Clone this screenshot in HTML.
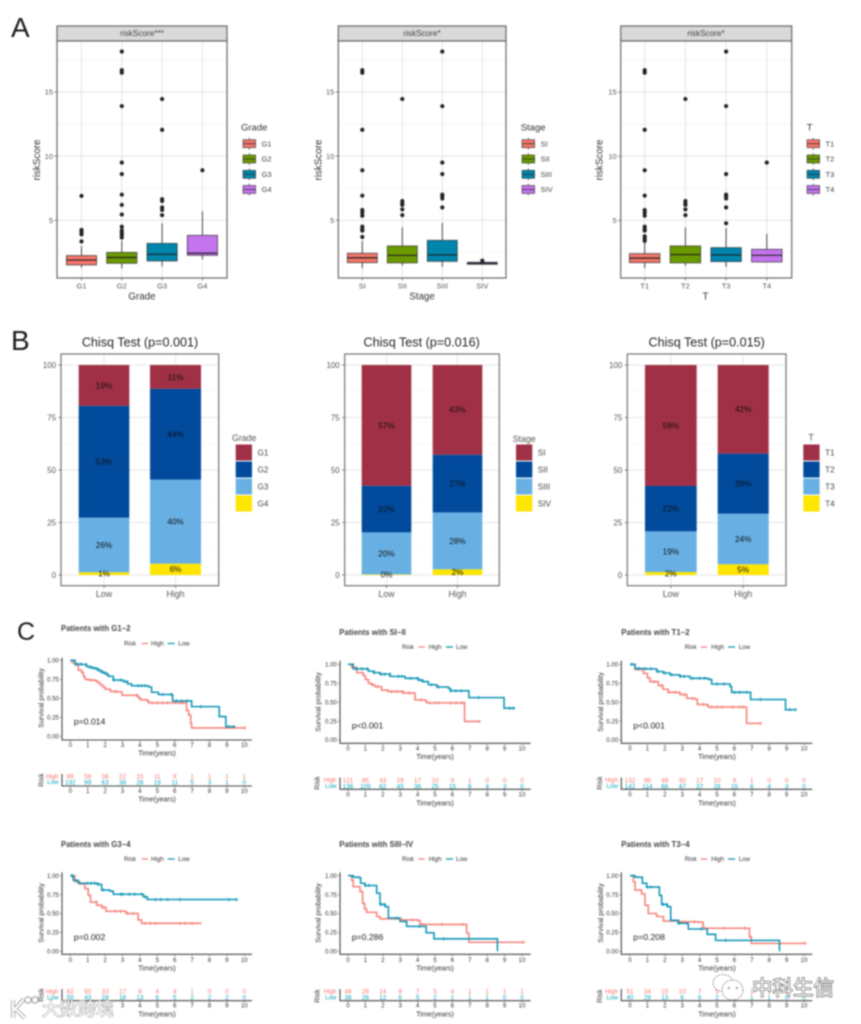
<!DOCTYPE html>
<html lang="en">
<head>
<meta charset="utf-8">
<title>Risk score figure</title>
<style>
html,body{margin:0;padding:0;background:#fff;width:861px;height:1024px;overflow:hidden}
svg{display:block;filter:blur(0.7px)}
text{font-family:"Liberation Sans","Noto Sans CJK SC",sans-serif}
.letter{fill:#1c1c1c}
.strip{font-size:8.2px;fill:#444;text-anchor:middle}
.axt{font-size:9.8px;fill:#333;text-anchor:middle}
.legt{font-size:9.5px;fill:#333}
.bt{font-size:12.6px;fill:#222;text-anchor:middle}
.blegt{font-size:8.8px;fill:#555}
.kt{font-size:7.8px;font-weight:bold;fill:#444}
.kl{font-size:6.2px;fill:#333}
.kx{font-size:7.1px;fill:#333;text-anchor:middle}
.kp{font-size:8.7px;fill:#222}
.kr{font-size:7px;fill:#333;text-anchor:middle}
</style>
</head>
<body>
<svg id="figure" xmlns="http://www.w3.org/2000/svg" width="861" height="1024" viewBox="0 0 861 1024">
<rect width="861" height="1024" fill="#fff"/>

<text class="letter" x="11" y="37" font-size="28">A</text>
<text class="letter" x="11" y="350" font-size="28">B</text>
<text class="letter" x="17" y="640" font-size="25">C</text>

<g id="box-grade">
<text class="strip" x="142" y="36">riskScore***</text>
<text class="axt" x="142" y="299.5">Grade</text>
<text class="axt" transform="translate(40,160) rotate(-90)" font-size="10.5">riskScore</text>
<text class="legt" x="241" y="130.5">Grade</text>
</g>
<g id="box-stage">
<text class="strip" x="422" y="36">riskScore*</text>
<text class="axt" x="422" y="299.5">Stage</text>
<text class="axt" transform="translate(321.5,160) rotate(-90)">riskScore</text>
<text class="legt" x="520.7" y="130.5">Stage</text>
</g>
<g id="box-t">
<text class="strip" x="706" y="36">riskScore*</text>
<text class="axt" x="705.5" y="299.5">T</text>
<text class="axt" transform="translate(602.5,160) rotate(-90)">riskScore</text>
<text class="legt" x="806.7" y="130.5">T</text>
</g>

<g id="bar-grade">
<text class="bt" x="140" y="346.5">Chisq Test (p=0.001)</text>
<text class="blegt" x="232" y="441">Grade</text>
</g>
<g id="bar-stage">
<text class="bt" x="421.7" y="346.5">Chisq Test (p=0.016)</text>
<text class="blegt" x="512.7" y="442">Stage</text>
</g>
<g id="bar-t">
<text class="bt" x="706.7" y="346.5">Chisq Test (p=0.015)</text>
<text class="blegt" x="808.5" y="440.5">T</text>
</g>

<g id="km1">
<text class="kt" x="61" y="631">Patients with G1−2</text>
<text class="kl" x="124" y="645.5">Risk</text>
<text class="kl" x="151" y="645.5">High</text>
<text class="kl" x="178.3" y="645.5">Low</text>
<text class="kp" x="73.7" y="724.7">p=0.014</text>
<text class="kx" x="157" y="755.5">Time(years)</text>
<text class="kx" x="157" y="801.5">Time(years)</text>
<text class="kx" transform="translate(43.5,698) rotate(-90)">Survival probability</text>
<text class="kr" transform="translate(43.5,780) rotate(-90)">Risk</text>
</g>
<g id="km2">
<text class="kt" x="339.3" y="635">Patients with SI−II</text>
<text class="kl" x="402" y="649">Risk</text>
<text class="kl" x="428.7" y="649">High</text>
<text class="kl" x="456" y="649">Low</text>
<text class="kp" x="351.7" y="728.7">p&lt;0.001</text>
<text class="kx" x="435" y="759">Time(years)</text>
<text class="kx" x="435" y="805.5">Time(years)</text>
<text class="kx" transform="translate(320.5,702) rotate(-90)">Survival probability</text>
<text class="kr" transform="translate(319.5,783) rotate(-90)">Risk</text>
</g>
<g id="km3">
<text class="kt" x="621.3" y="635">Patients with T1−2</text>
<text class="kl" x="684.7" y="649">Risk</text>
<text class="kl" x="711.3" y="649">High</text>
<text class="kl" x="738.7" y="649">Low</text>
<text class="kp" x="633.3" y="728.7">p&lt;0.001</text>
<text class="kx" x="717" y="759">Time(years)</text>
<text class="kx" x="717" y="805.5">Time(years)</text>
<text class="kx" transform="translate(603,702) rotate(-90)">Survival probability</text>
<text class="kr" transform="translate(602,783) rotate(-90)">Risk</text>
</g>
<g id="km4">
<text class="kt" x="61" y="847">Patients with G3−4</text>
<text class="kl" x="124" y="861">Risk</text>
<text class="kl" x="151" y="861">High</text>
<text class="kl" x="178.3" y="861">Low</text>
<text class="kp" x="73.7" y="940">p=0.002</text>
<text class="kx" x="157" y="970.5">Time(years)</text>
<text class="kx" x="157" y="1016.5">Time(years)</text>
<text class="kx" transform="translate(43.5,913) rotate(-90)">Survival probability</text>
<text class="kr" transform="translate(43.5,995) rotate(-90)">Risk</text>
</g>
<g id="km5">
<text class="kt" x="339.3" y="847">Patients with SIII−IV</text>
<text class="kl" x="402" y="861">Risk</text>
<text class="kl" x="428.7" y="861">High</text>
<text class="kl" x="456" y="861">Low</text>
<text class="kp" x="351.7" y="940">p=0.286</text>
<text class="kx" x="435" y="970.5">Time(years)</text>
<text class="kx" x="435" y="1016.5">Time(years)</text>
<text class="kx" transform="translate(320.5,913) rotate(-90)">Survival probability</text>
<text class="kr" transform="translate(319.5,996) rotate(-90)">Risk</text>
</g>
<g id="km6">
<text class="kt" x="621.3" y="847">Patients with T3−4</text>
<text class="kl" x="684.7" y="861">Risk</text>
<text class="kl" x="711.3" y="861">High</text>
<text class="kl" x="738.7" y="861">Low</text>
<text class="kp" x="633.3" y="940">p=0.208</text>
<text class="kx" x="717" y="970.5">Time(years)</text>
<text class="kx" x="717" y="1016.5">Time(years)</text>
<text class="kx" transform="translate(603,913) rotate(-90)">Survival probability</text>
<text class="kr" transform="translate(602,996) rotate(-90)">Risk</text>
</g>

<g id="watermarks">
<rect x="40" y="1002.5" width="76" height="16" fill="#fff" opacity="0.9"/>
<g fill="none" stroke="#fff" stroke-width="2.4">
<path d="M13 1000v18M24 999l-9 10 10 9" stroke="#999" stroke-width="4"/>
<path d="M13 1000v18M24 999l-9 10 10 9"/>
<circle cx="28" cy="1000" r="3.2" stroke="#999" stroke-width="1"/>
<circle cx="35" cy="1000" r="3.2" stroke="#999" stroke-width="1"/>
</g>
<text x="42" y="1015.5" font-size="18" fill="#fff" stroke="#999" stroke-width="1" paint-order="stroke">大数跨境</text>
<g fill="#fff" stroke="#555" stroke-width="0.7" stroke-dasharray="1.6 1.4">
<ellipse cx="723" cy="983" rx="10" ry="8.5"/>
<ellipse cx="732.5" cy="990" rx="10.5" ry="10"/>
<circle cx="728.5" cy="988" r="0.8"/>
<circle cx="736.5" cy="988" r="0.8"/>
</g>
<text x="752" y="995" font-size="20.5" fill="#fff" stroke="#333" stroke-width="1" paint-order="stroke">中科生信</text>
</g>
</svg>

<script>
/* ---------- Panel A: box plots ---------- */
const boxYTicks = [5, 10, 15];
const boxYMinorTicks = [2.5, 7.5, 12.5, 17.5];

const gradeCategories = ['G1', 'G2', 'G3', 'G4'];
const gradeWhiskerLow = [1.3, 1.25, 1.4, 1.95];
const gradeQ1 = [1.52, 1.65, 1.83, 2.27];
const gradeMedian = [1.9, 2.1, 2.35, 2.43];
const gradeQ3 = [2.25, 2.5, 3.2, 3.83];
const gradeWhiskerHigh = [3.0, 3.4, 4.77, 5.7];
const gradeOutliers = [
  [6.9, 4.25, 4.1, 3.9, 3.35],
  [18.15, 16.7, 16.5, 13.9, 9.5, 8.6, 7.0, 6.2, 5.45, 4.5, 4.2, 4.0, 3.85, 3.65],
  [14.45, 12.05, 6.65, 6.5, 6.0, 5.8, 5.4],
  [8.9]
];

const stageCategories = ['SI', 'SII', 'SIII', 'SIV'];
const stageWhiskerLow = [1.26, 1.45, 1.36, 1.55];
const stageQ1 = [1.7, 1.68, 1.8, 1.57];
const stageMedian = [2.07, 2.27, 2.3, 1.65];
const stageQ3 = [2.43, 3.0, 3.44, 1.73];
const stageWhiskerHigh = [3.4, 4.45, 4.8, 1.75];
const stageOutliers = [
  [16.7, 16.5, 12.05, 8.9, 6.92, 5.8, 5.6, 5.35, 4.5, 4.3, 4.2, 3.7],
  [14.45, 6.5, 6.3, 6.2, 5.85, 5.4],
  [18.15, 13.9, 9.5, 8.6, 7.0, 6.9, 6.7, 6.0],
  [1.85]
];

const tCategories = ['T1', 'T2', 'T3', 'T4'];
const tWhiskerLow = [1.26, 1.45, 1.36, 1.73];
const tQ1 = [1.7, 1.68, 1.78, 1.75];
const tMedian = [2.05, 2.33, 2.3, 2.27];
const tQ3 = [2.4, 3.0, 2.87, 2.74];
const tWhiskerHigh = [3.4, 4.45, 4.38, 3.93];
const tOutliers = [
  [16.7, 16.5, 12.05, 8.9, 6.92, 5.8, 5.6, 5.35, 4.5, 4.3, 4.2, 3.75, 3.6, 3.4],
  [14.45, 6.5, 6.3, 6.2, 5.85, 5.4],
  [18.15, 13.9, 8.6, 7.0, 6.9, 6.7, 6.0, 4.77],
  [9.5]
];

/* ---------- Panel B: stacked bars (top segment first) ---------- */
const barYTicks = [0, 25, 50, 75, 100];
const barYMinorTicks = [12.5, 37.5, 62.5, 87.5];
const barGroups = ['Low', 'High'];

const gradeBarLow = [19.4, 53.3, 26, 1.3];
const gradeBarHigh = [11.3, 43.3, 40, 5.4];
const gradeBarLowLabels = ['19%', '53%', '26%', '1%'];
const gradeBarHighLabels = ['11%', '44%', '40%', '6%'];

const stageBarLow = [57.5, 22.2, 20.0, 0.3];
const stageBarHigh = [42.7, 27.5, 27.1, 2.7];
const stageBarLowLabels = ['57%', '22%', '20%', '0%'];
const stageBarHighLabels = ['43%', '27%', '28%', '2%'];

const tBarLow = [57.6, 21.6, 19.4, 1.4];
const tBarHigh = [42.2, 28.6, 24.1, 5.1];
const tBarLowLabels = ['58%', '22%', '19%', '2%'];
const tBarHighLabels = ['42%', '29%', '24%', '5%'];

/* ---------- Panel C: survival curves ---------- */
const kmXTicks = [0, 1, 2, 3, 4, 5, 6, 7, 8, 9, 10];
const kmYTicks = [0, 0.25, 0.5, 0.75, 1];

const km1HighT = [0, .1, .27, .46, .65, .75, .84, 1.03, 1.42, 1.55, 1.7, 1.85, 2.0, 2.3, 2.68, 2.97, 3.74, 3.9, 4.02, 4.4, 4.5, 6.59, 6.68, 6.8, 6.92, 6.97, 10.1];
const km1HighS = [1, .97, .94, .87, .84, .79, .75, .74, .73, .71, .68, .65, .62, .59, .585, .54, .54, .51, .48, .47, .44, .44, .34, .28, .17, .11, .11];
const km1HighCensor = [1.2, 2.6, 3.8, 4.7, 5, 5.3, 5.6, 6, 6.3, 6.5, 10];
const km1LowT = [0, .27, .65, .94, 1.2, 1.42, 1.6, 1.8, 2.0, 2.18, 2.47, 3.05, 3.3, 3.52, 4.48, 4.67, 5.06, 5.82, 5.88, 6.92, 6.97, 8.5, 8.56, 8.88, 8.94, 9.46];
const km1LowS = [1, .95, .945, .915, .90, .89, .865, .84, .82, .79, .74, .72, .69, .665, .65, .58, .55, .55, .465, .465, .39, .39, .26, .26, .127, .127];
const km1LowCensor = [.4, .6, .9, 1.1, 1.3, 1.5, 1.7, 1.9, 2.1, 2.5, 2.9, 3.2, 3.9, 4.1, 4.3, 5.3, 5.8, 6.1, 6.4, 6.7, 7.5, 9.1, 9.4];
const km1RiskHigh = ['89', '58', '38', '22', '15', '11', '9', '1', '1', '1', '1'];
const km1RiskLow = ['132', '99', '63', '38', '28', '19', '11', '5', '3', '1', '0'];

const km2HighT = [0, .21, .5, .88, 1.0, 1.17, 1.35, 1.55, 1.93, 2.3, 3.18, 3.75, 3.85, 4.43, 4.52, 6.67, 6.7, 7.55];
const km2HighS = [1, .96, .89, .85, .80, .75, .73, .705, .66, .64, .62, .62, .53, .52, .49, .49, .245, .245];
const km2HighCensor = [1.4, 1.7, 2.5, 2.8, 3.1, 3.5, 4.2, 4.7, 5, 5.2, 5.9, 6.2, 6.5, 6.65, 7.55];
const km2LowT = [0, .3, .79, 1.17, 1.5, 1.84, 2.41, 3.28, 4.04, 4.3, 4.62, 5.1, 5.77, 5.9, 6.92, 6.95, 8.93, 8.97, 9.6];
const km2LowS = [1, .94, .94, .91, .89, .87, .84, .815, .79, .77, .73, .70, .68, .65, .65, .56, .56, .42, .42];
const km2LowCensor = [.5, .8, 1.1, 1.5, 1.9, 2.1, 2.4, 2.9, 3.1, 3.6, 4, 4.2, 4.8, 5.2, 5.9, 6.2, 6.5, 7.5, 9.3, 9.5];
const km2RiskHigh = ['121', '85', '43', '29', '17', '10', '9', '1', '0', '0', '0'];
const km2RiskLow = ['136', '109', '62', '45', '36', '25', '15', '6', '4', '3', '0'];

const km3HighT = [0, .29, .77, 1.0, 1.15, 1.63, 1.9, 2.2, 2.87, 3.26, 3.74, 3.87, 4.4, 4.5, 6.67, 6.7, 7.53];
const km3HighS = [1, .93, .88, .82, .77, .72, .67, .63, .6, .55, .54, .47, .46, .435, .435, .22, .22];
const km3HighCensor = [1.4, 1.8, 2.2, 2.6, 3.1, 3.6, 4.2, 4.7, 5, 5.3, 5.9, 6.3, 6.5, 7.5];
const km3LowT = [0, .29, .86, 1.53, 1.9, 2.3, 2.87, 3.45, 4.5, 4.69, 5.75, 5.84, 6.9, 6.93, 8.9, 8.94, 9.54];
const km3LowS = [1, .945, .94, .905, .885, .86, .84, .815, .80, .74, .705, .63, .63, .535, .535, .40, .40];
const km3LowCensor = [.1, .5, .9, 1.2, 1.6, 2, 2.4, 2.9, 3.1, 3.6, 4, 4.3, 5, 5.4, 6, 6.3, 6.7, 7.5, 9.2, 9.5];
const km3RiskHigh = ['132', '95', '49', '30', '17', '10', '9', '1', '0', '0', '0'];
const km3RiskLow = ['142', '114', '66', '47', '37', '26', '15', '6', '4', '3', '0'];

const km4HighT = [0, .27, .55, .84, 1.03, 1.16, 1.51, 1.8, 2.05, 3.14, 3.2, 3.77, 3.9, 4.1, 7.55];
const km4HighS = [1, .92, .89, .83, .74, .65, .61, .58, .53, .53, .5, .5, .415, .37, .37];
const km4HighCensor = [1.5, 1.9, 2.6, 2.9, 3.3, 3.6, 4.3, 4.6, 4.9, 6.3, 6.6, 7.0];
const km4LowT = [0, .17, .46, 1.6, 1.8, 2.28, 2.47, 3.9, 4.2, 4.43, 9.56];
const km4LowS = [1, .94, .9, .885, .81, .795, .755, .755, .72, .685, .685];
const km4LowCensor = [.1, 1, 1.2, 1.4, 1.6, 1.9, 2.9, 3, 3.4, 3.7, 4.1, 4.3, 4.9, 5.2, 5.6, 6.3, 9.1, 9.55];
const km4RiskHigh = ['62', '50', '33', '17', '9', '4', '4', '1', '0', '0', '0'];
const km4RiskLow = ['50', '43', '28', '18', '13', '6', '5', '2', '2', '2', '0'];

const km5HighT = [0, .21, .3, .69, .84, .95, 1.07, 1.65, 1.84, 3, 4.04, 4.14, 6.63, 6.82, 6.95, 10.08];
const km5HighS = [1, .94, .855, .79, .635, .56, .515, .46, .43, .415, .405, .355, .355, .24, .12, .12];
const km5HighCensor = [3.1, 3.7, 4.3, 5.4, 6.6, 10.08];
const km5LowT = [0, .3, .65, .73, .98, 1.49, 1.65, 1.84, 2.13, 2.32, 2.99, 3.33, 3.37, 4.43, 4.49, 4.9, 4.94, 8.58, 8.59];
const km5LowS = [1, .98, .975, .9, .87, .87, .77, .62, .59, .44, .395, .39, .33, .33, .245, .245, .165, .165, 0];
const km5LowCensor = [1, 1.2, 1.9, 2.1, 2.8, 4.1, 5.5];
const km5RiskHigh = ['48', '28', '14', '9', '7', '5', '4', '1', '1', '1', '1'];
const km5RiskLow = ['38', '28', '12', '6', '5', '2', '1', '1', '1', '0', '0'];

const km6HighT = [0, .19, .29, .67, .86, 1.05, 1.53, 1.92, 2.87, 3.93, 4.2, 6.7, 6.86, 6.97, 10.06];
const km6HighS = [1, .92, .81, .76, .61, .50, .46, .40, .39, .385, .305, .305, .195, .105, .105];
const km6HighCensor = [3.1, 3.7, 4.3, 5.4, 6.6, 10.06];
const km6LowT = [0, .29, .61, .71, .96, 1.49, 1.69, 1.82, 2.15, 2.34, 2.78, 3.3, 3.35, 4.4, 4.44, 4.88, 4.92, 8.58, 8.59];
const km6LowS = [1, .98, .98, .9, .85, .85, .74, .62, .59, .41, .37, .365, .295, .295, .225, .225, .145, .145, 0];
const km6LowCensor = [1, 1.2, 1.9, 2.1, 2.8, 4.1, 5.5];
const km6RiskHigh = ['51', '34', '15', '10', '7', '5', '4', '1', '1', '1', '1'];
const km6RiskLow = ['40', '29', '13', '6', '6', '2', '1', '1', '1', '0', '0'];

/* ---------- Rendering ---------- */
const NS = 'http://www.w3.org/2000/svg';
function mk(parent, tag, attrs, txt) {
  const el = document.createElementNS(NS, tag);
  for (const k in attrs) el.setAttribute(k, attrs[k]);
  if (txt !== undefined) el.textContent = txt;
  parent.appendChild(el);
  return el;
}
function linear(d0, d1, r0, r1) {
  return function (v) { return r0 + (v - d0) * (r1 - r0) / (d1 - d0); };
}

const boxFills = ['#F4756A', '#6B9A00', '#0085AC', '#C474EC'];
const barFills = ['#A03045', '#014A9C', '#68B0E4', '#FFE600'];
const kmHighColor = '#F5827A';
const kmLowColor = '#0E95B5';

function drawBox(id, g, cats, wl, q1, med, q3, wh, outs) {
  const root = document.getElementById(id);
  const y = linear(5, 15, 220.3, 92.0);
  const x = function (i) { return g.x0 + i * g.step; };
  const first = root.firstChild;
  const back = document.createElementNS(NS, 'g');
  root.insertBefore(back, first);
  let el = mk(back, 'rect', {x: g.left, y: 26, width: g.right - g.left, height: 15, fill: '#d9d9d9', stroke: '#666', 'stroke-width': 1.2});
  
  
  el = mk(back, 'rect', {x: g.left, y: 41, width: g.right - g.left, height: 237, fill: '#fff'});
  
  
  boxYMinorTicks.forEach(function (v) {
    const ln = mk(back, 'line', {x1: g.left, x2: g.right, y1: y(v), y2: y(v), stroke: '#f2f2f2', 'stroke-width': 0.6});
    
    
  });
  boxYTicks.forEach(function (v) {
    const ln = mk(back, 'line', {x1: g.left, x2: g.right, y1: y(v), y2: y(v), stroke: '#e4e4e4', 'stroke-width': 1});
    
    
    const tk = mk(back, 'line', {x1: g.left - 2.5, x2: g.left, y1: y(v), y2: y(v), stroke: '#444', 'stroke-width': 0.7});
    
    
    const tx = mk(back, 'text', {x: g.left - 4, y: y(v) + 2.6, 'font-size': 7.5, fill: '#555', 'text-anchor': 'end'}, String(v));
    
    
  });
  cats.forEach(function (c, i) {
    const cx = x(i);
    const gl = mk(back, 'line', {x1: cx, x2: cx, y1: 41, y2: 278, stroke: '#e4e4e4', 'stroke-width': 1});
    
    
    const tk = mk(back, 'line', {x1: cx, x2: cx, y1: 278, y2: 280.5, stroke: '#444', 'stroke-width': 0.7});
    
    
    const tl = mk(back, 'text', {x: cx, y: 288.7, 'font-size': 7.5, fill: '#555', 'text-anchor': 'middle'}, c);
    
    
    const wk = mk(back, 'line', {x1: cx, x2: cx, y1: y(wl[i]), y2: y(wh[i]), stroke: '#333', 'stroke-width': 0.9});
    
    
    const hw = g.step * 0.375;
    const bx = mk(back, 'rect', {x: cx - hw, y: y(q3[i]), width: hw * 2, height: Math.max(0.6, y(q1[i]) - y(q3[i])), fill: boxFills[i], stroke: '#333', 'stroke-width': 0.7});
    
    
    const md = mk(back, 'line', {x1: cx - hw, x2: cx + hw, y1: y(med[i]), y2: y(med[i]), stroke: '#222', 'stroke-width': 1.2});
    
    
    outs[i].forEach(function (v) {
      const pt = mk(back, 'circle', {cx: cx, cy: y(v), r: 2.05, fill: '#222'});
      
      
    });
    const ky = g.legY[i];
    const ks = mk(back, 'line', {x1: g.legX + 6.3, x2: g.legX + 6.3, y1: ky - 6, y2: ky + 6, stroke: '#333', 'stroke-width': 0.7});
    
    
    const kb = mk(back, 'rect', {x: g.legX, y: ky - 4, width: 12.6, height: 8, fill: boxFills[i], stroke: '#333', 'stroke-width': 0.6});
    
    
    const km = mk(back, 'line', {x1: g.legX, x2: g.legX + 12.6, y1: ky, y2: ky, stroke: '#333', 'stroke-width': 0.8});
    
    
    const kt = mk(back, 'text', {x: g.legX + 18.5, y: ky + 2.6, 'font-size': 7.6, fill: '#444'}, c);
    
    
  });
  el = mk(back, 'rect', {x: g.left, y: 41, width: g.right - g.left, height: 237, fill: 'none', stroke: '#666', 'stroke-width': 1.2});
  
  
}

function drawBar(id, g, cats, lowPct, highPct, lowTxt, highTxt) {
  const root = document.getElementById(id);
  const y = linear(0, 100, 575, 365);
  let el = mk(root, 'rect', {x: g.left, y: 354, width: g.right - g.left, height: 231.7, fill: '#fff'});
  
  
  barYMinorTicks.forEach(function (v) {
    const ln = mk(root, 'line', {x1: g.left, x2: g.right, y1: y(v), y2: y(v), stroke: '#f3f3f3', 'stroke-width': 0.6});
    
    
  });
  barYTicks.forEach(function (v) {
    const ln = mk(root, 'line', {x1: g.left, x2: g.right, y1: y(v), y2: y(v), stroke: '#e6e6e6', 'stroke-width': 1});
    
    
    const tk = mk(root, 'line', {x1: g.left - 2.5, x2: g.left, y1: y(v), y2: y(v), stroke: '#444', 'stroke-width': 0.7});
    
    
    const tx = mk(root, 'text', {x: g.left - 5, y: y(v) + 2.8, 'font-size': 7.9, fill: '#555', 'text-anchor': 'end'}, String(v));
    
    
  });
  barGroups.forEach(function (name, b) {
    const xl = g.bars[b][0], xr = g.bars[b][1], cx = (xl + xr) / 2;
    const pct = b === 0 ? lowPct : highPct;
    const txt = b === 0 ? lowTxt : highTxt;
    const gl = mk(root, 'line', {x1: cx, x2: cx, y1: 354, y2: 585.7, stroke: '#e6e6e6', 'stroke-width': 1});
    
    
    let acc = 0;
    const labels = [];
    for (let i = pct.length - 1; i >= 0; i--) {
      const top = acc + pct[i];
      const r = mk(root, 'rect', {x: xl, y: y(top), width: xr - xl, height: y(acc) - y(top), fill: barFills[i]});
      
      
      labels.push([cx, (y(acc) + y(top)) / 2 + 2.9, txt[i]]);
      acc = top;
    }
    labels.forEach(function (l) {
      const t = mk(root, 'text', {x: l[0], y: l[1], 'font-size': 8.2, fill: '#111', 'text-anchor': 'middle'}, l[2]);
      
      
    });
    const tk = mk(root, 'line', {x1: cx, x2: cx, y1: 585.7, y2: 588, stroke: '#444', 'stroke-width': 0.7});
    
    
    const tl = mk(root, 'text', {x: cx, y: 597.2, 'font-size': 8.8, fill: '#555', 'text-anchor': 'middle'}, name);
    
    
  });
  cats.forEach(function (c, i) {
    const top = 444.5 + i * 17;
    const k = mk(root, 'rect', {x: g.legX, y: top, width: 16.3, height: 16, fill: barFills[i]});
    
    
    const t = mk(root, 'text', {x: g.legX + 21.8, y: top + 11, 'font-size': 8.2, fill: '#444'}, c);
    
    
  });
  el = mk(root, 'rect', {x: g.left, y: 354, width: g.right - g.left, height: 231.7, fill: 'none', stroke: '#666', 'stroke-width': 1.1});
  
  
}

function stepPath(x, y, ts, ss) {
  let d = 'M' + x(ts[0]) + ' ' + y(ss[0]);
  for (let i = 1; i < ts.length; i++) {
    d += 'H' + x(ts[i]) + 'V' + y(ss[i]);
  }
  return d;
}
function survivalAt(ts, ss, t) {
  let s = ss[0];
  for (let i = 0; i < ts.length; i++) { if (ts[i] <= t) s = ss[i]; }
  return s;
}

function drawKM(id, g, hT, hS, hC, lT, lS, lC, rH, rL) {
  const root = document.getElementById(id);
  const x = linear(0, 10, g.x0, g.x10);
  const y = linear(0, 1, g.y0, g.y1);
  const axis = 'M' + g.axisX + ' ' + g.top + 'V' + g.axisY + 'H' + g.axisR;
  let el = mk(root, 'path', {d: axis, fill: 'none', stroke: '#444', 'stroke-width': 1.1});
  
  
  el = mk(root, 'path', {d: 'M' + g.axisX + ' ' + g.riskTop + 'V' + g.riskAxis + 'H' + g.axisR, fill: 'none', stroke: '#444', 'stroke-width': 1.1});
  
  
  kmYTicks.forEach(function (v) {
    const tk = mk(root, 'line', {x1: g.axisX - 2, x2: g.axisX, y1: y(v), y2: y(v), stroke: '#555', 'stroke-width': 0.6});
    
    
    const tl = mk(root, 'text', {x: g.axisX - 3, y: y(v) + 2.2, 'font-size': 6.2, fill: '#333', 'text-anchor': 'end'}, v.toFixed(2));
    
    
  });
  kmXTicks.forEach(function (t, i) {
    const tk = mk(root, 'line', {x1: x(t), x2: x(t), y1: g.axisY, y2: g.axisY + 2, stroke: '#555', 'stroke-width': 0.6});
    
    
    const tl = mk(root, 'text', {x: x(t), y: g.tickY + 2.2, 'font-size': 6.2, fill: '#333', 'text-anchor': 'middle'}, String(t));
    
    
    const rk = mk(root, 'line', {x1: x(t), x2: x(t), y1: g.riskAxis, y2: g.riskAxis + 2, stroke: '#555', 'stroke-width': 0.6});
    
    
    const rl = mk(root, 'text', {x: x(t), y: g.riskTick + 2.2, 'font-size': 6.2, fill: '#333', 'text-anchor': 'middle'}, String(t));
    
    
    const nh = mk(root, 'text', {x: x(t), y: g.highY + 2.3, 'font-size': 6.4, fill: '#F8766D', 'text-anchor': 'middle'}, rH[i]);
    
    
    const nl = mk(root, 'text', {x: x(t), y: g.lowY + 2.3, 'font-size': 6.4, fill: '#0AA5C2', 'text-anchor': 'middle'}, rL[i]);
    
    
  });
  const hl = mk(root, 'text', {x: g.axisX - 3.5, y: g.highY + 2.2, 'font-size': 6.2, fill: '#F8766D', 'text-anchor': 'end'}, 'High');
  
  
  const ll = mk(root, 'text', {x: g.axisX - 3.5, y: g.lowY + 2.2, 'font-size': 6.2, fill: '#0AA5C2', 'text-anchor': 'end'}, 'Low');
  
  
  const lh = mk(root, 'line', {x1: g.legH, x2: g.legH + 6.5, y1: g.legY, y2: g.legY, stroke: kmHighColor, 'stroke-width': 1.3});
  
  
  const lw = mk(root, 'line', {x1: g.legL, x2: g.legL + 7, y1: g.legY, y2: g.legY, stroke: kmLowColor, 'stroke-width': 1.3});
  
  
  const cH = mk(root, 'path', {d: stepPath(x, y, hT, hS), fill: 'none', stroke: kmHighColor, 'stroke-width': 1.55});
  
  
  const cL = mk(root, 'path', {d: stepPath(x, y, lT, lS), fill: 'none', stroke: kmLowColor, 'stroke-width': 1.55});
  
  
  hC.forEach(function (t) {
    const px = x(t), py = y(survivalAt(hT, hS, t));
    const m = mk(root, 'path', {d: 'M' + (px - 1.7) + ' ' + py + 'h3.4M' + px + ' ' + (py - 1.7) + 'v3.4', stroke: kmHighColor, 'stroke-width': 0.9, fill: 'none'});
    
    
  });
  lC.forEach(function (t) {
    const px = x(t), py = y(survivalAt(lT, lS, t));
    const m = mk(root, 'path', {d: 'M' + (px - 1.7) + ' ' + py + 'h3.4M' + px + ' ' + (py - 1.7) + 'v3.4', stroke: kmLowColor, 'stroke-width': 0.9, fill: 'none'});
    
    
  });
}

const boxLegYs = [143.7, 159, 174.3, 189.5];
drawBox('box-grade', {left: 57, right: 227, x0: 81.5, step: 40.3, legX: 243, legY: boxLegYs},
  gradeCategories, gradeWhiskerLow, gradeQ1, gradeMedian, gradeQ3, gradeWhiskerHigh, gradeOutliers);
drawBox('box-stage', {left: 338.3, right: 506, x0: 362.3, step: 40, legX: 522, legY: boxLegYs},
  stageCategories, stageWhiskerLow, stageQ1, stageMedian, stageQ3, stageWhiskerHigh, stageOutliers);
drawBox('box-t', {left: 620.7, right: 791.7, x0: 644.7, step: 40.7, legX: 807, legY: boxLegYs},
  tCategories, tWhiskerLow, tQ1, tMedian, tQ3, tWhiskerHigh, tOutliers);

drawBar('bar-grade', {left: 61, right: 218.7, bars: [[78.7, 129.3], [150, 201]], legX: 235.7},
  gradeCategories, gradeBarLow, gradeBarHigh, gradeBarLowLabels, gradeBarHighLabels);
drawBar('bar-stage', {left: 344.7, right: 499.3, bars: [[361.7, 411.3], [432.7, 482.3]], legX: 516},
  stageCategories, stageBarLow, stageBarHigh, stageBarLowLabels, stageBarHighLabels);
drawBar('bar-t', {left: 627.3, right: 786, bars: [[645, 696.7], [717.7, 768.7]], legX: 803.3},
  tCategories, tBarLow, tBarHigh, tBarLowLabels, tBarHighLabels);

const colA = {x0: 70.3, x10: 244.3, axisX: 62, axisR: 252, legH: 141.7, legL: 167.7};
const colB = {x0: 348, x10: 522, axisX: 340, axisR: 530.7, legH: 418.3, legL: 446};
const colC = {x0: 630, x10: 804, axisX: 621.3, axisR: 812.3, legH: 700.7, legL: 728};
const rowTopA = {y1: 660.3, y0: 736.3, axisY: 740, top: 657.7, tickY: 745, riskAxis: 786, riskTop: 774, highY: 776.3, lowY: 782, riskTick: 790.7, legY: 643.5};
const rowTopB = {y1: 664.3, y0: 740, axisY: 743.3, top: 660.7, tickY: 748.3, riskAxis: 789.3, riskTop: 777.5, highY: 780, lowY: 786, riskTick: 794.3, legY: 647};
const rowBot = {y1: 875.7, y0: 951.3, axisY: 954.3, top: 872.3, tickY: 960, riskAxis: 1000.7, riskTop: 989, highY: 991.3, lowY: 997.3, riskTick: 1005.3, legY: 859};

drawKM('km1', Object.assign({}, colA, rowTopA), km1HighT, km1HighS, km1HighCensor, km1LowT, km1LowS, km1LowCensor, km1RiskHigh, km1RiskLow);
drawKM('km2', Object.assign({}, colB, rowTopB), km2HighT, km2HighS, km2HighCensor, km2LowT, km2LowS, km2LowCensor, km2RiskHigh, km2RiskLow);
drawKM('km3', Object.assign({}, colC, rowTopB), km3HighT, km3HighS, km3HighCensor, km3LowT, km3LowS, km3LowCensor, km3RiskHigh, km3RiskLow);
drawKM('km4', Object.assign({}, colA, rowBot), km4HighT, km4HighS, km4HighCensor, km4LowT, km4LowS, km4LowCensor, km4RiskHigh, km4RiskLow);
drawKM('km5', Object.assign({}, colB, rowBot), km5HighT, km5HighS, km5HighCensor, km5LowT, km5LowS, km5LowCensor, km5RiskHigh, km5RiskLow);
drawKM('km6', Object.assign({}, colC, rowBot), km6HighT, km6HighS, km6HighCensor, km6LowT, km6LowS, km6LowCensor, km6RiskHigh, km6RiskLow);
</script>
</body>
</html>
